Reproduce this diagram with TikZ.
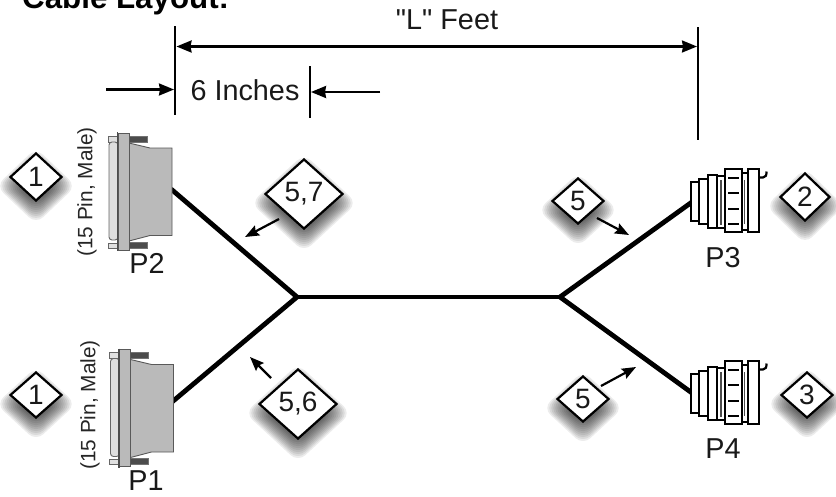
\documentclass[tikz,border=0pt]{standalone}
\usepackage{fontspec}
\setmainfont{Liberation Sans}
\newfontfamily\plainfont{Liberation Sans}
\usetikzlibrary{shapes.geometric,arrows.meta}
\tikzset{
  x=1pt,y=-1pt,
  lab/.style={inner sep=0pt,font=\fontsize{28.8}{32}\selectfont,text=black!90},
  pinlab/.style={inner sep=0pt,rotate=90,font=\fontsize{20.8}{23}\selectfont,text=black!85},
  tag/.style={shape=diamond,draw=black,line width=2.2pt,fill=white,inner sep=0pt,line join=miter,font=\fontsize{28}{30}\selectfont,text=black!90},
  cable/.style={line width=4.8pt,black},
  dim/.style={line width=2.2pt,black},
  arr/.style={line width=2.2pt,black,-{Stealth[length=15pt,width=12pt,inset=1pt]}},
  arrs/.style={line width=2.2pt,black,-{Stealth[length=14pt,width=11pt,inset=2pt]}},
  arrb/.style={line width=2.2pt,black,{Stealth[length=15pt,width=12pt,inset=1pt]}-{Stealth[length=15pt,width=12pt,inset=1pt]}},
  seg/.style={draw=black,line width=2.2pt,fill=white},
}
\newcommand{\softshadow}[4]{%
  \foreach \d in {14,12,...,-10}{
    \pgfmathsetmacro{\ww}{#3+\d}\pgfmathsetmacro{\hh}{#4+\d}
    \fill[black,opacity=.075,rounded corners=10pt]
      (#1-\ww,#2+9) -- (#1,#2+9-\hh) -- (#1+\ww,#2+9) -- (#1,#2+9+\hh) -- cycle;
  }}
\newcommand{\tagnode}[6]{%
  \softshadow{#2}{#3}{#4}{#5}
  \node[tag,minimum width=#4*2pt,minimum height=#5*2pt] (#1) at (#2,#3) {#6};}
\newcommand{\dsub}[2]{%
  \begin{scope}[shift={(#1,#2)}]
    \fill[black!70,draw=black!55,line width=.4pt] (129,136) rectangle (147,142);
    \fill[black!70,draw=black!55,line width=.4pt] (129,242) rectangle (147,248);
    \draw[black!60,fill=black!12,line width=.9pt] (108,136) rectangle (117,142);
    \draw[black!60,fill=black!12,line width=.9pt] (108,243) rectangle (117,248);
    \draw[black!60,fill=black!13,line width=.9pt,rounded corners=3pt] (118,142) -- (109,142) -- (109,240) -- (118,240) -- cycle;
    \draw[black!65,fill=black!27,line width=.9pt] (129,143) -- (150,148) -- (172,148) -- (172,235.5) -- (150,235.5) -- (129,241) -- cycle;
    \draw[black!65,fill=black!27,line width=.9pt] (118,133) rectangle (129,250);
    \draw[black!70,line width=1.6pt] (117.5,132) -- (117.5,251);
  \end{scope}}
\newcommand{\circular}[2]{%
  \begin{scope}[shift={(#1,#2)}]
    \draw[seg] (691,182) rectangle (699,221);
    \draw[seg] (699,179) rectangle (708,224);
    \draw[seg] (708,175) rectangle (717,228);
    \draw[seg] (717,176) rectangle (725,228);
    \draw[black!70,line width=1.2pt] (721,180) -- (721,225);
    \draw[seg] (742,173) rectangle (748,230);
    \draw[black!70,line width=1.2pt] (744.5,180) -- (744.5,224);
    \draw[seg] (725,169) rectangle (742,232);
    \foreach \yy in {178,193,209,224}{\draw[black,line width=1.6pt] (728,\yy) -- (739,\yy);}
    \draw[seg] (748,169) rectangle (759,232);
    \draw[black,line width=2.2pt] (760,177.5) -- (763,177.5) .. controls (766,177.5) and (766.5,175) .. (766.5,171.5);
  \end{scope}}
\begin{document}
\begin{tikzpicture}
\useasboundingbox (0,0) rectangle (836,496);
\fill[white] (0,0) rectangle (836,496);
% cables
\coordinate (jl) at (297,297);
\coordinate (jr) at (560,297);
\coordinate (p2end) at (171,189);
\coordinate (p1end) at (172,402);
\coordinate (p3end) at (692,202);
\coordinate (p4end) at (692,393);
\draw[cable] (jl) -- (jr);
\draw[cable] (p2end) -- (jl) -- (p1end);
\draw[cable] (p3end) -- (jr) -- (p4end);
% connectors
\dsub{0}{0}
\dsub{1.5}{216.5}
\circular{0}{0}
\circular{0}{192}
% labels
\node[anchor=base west,inner sep=0pt,font=\bfseries\fontsize{31.3}{33}\selectfont] (title) at (22,8) {Cable Layout:};
\node[lab,font=\plainfont\fontsize{28.8}{32}\selectfont] (feet) at (447,20) {"L" Feet};
\node[lab] (inches) at (245,90) {6 Inches};
\node[lab] (p2) at (147,263) {P2};
\node[lab] (p1) at (146,481) {P1};
\node[lab] (p3) at (723,258) {P3};
\node[lab] (p4) at (723,449) {P4};
\node[pinlab] (pin2) at (87,192) {(15 Pin, Male)};
\node[pinlab] (pin1) at (90,405) {(15 Pin, Male)};
% dimensions
\coordinate (la) at (175,26);\coordinate (lb) at (175,115);
\coordinate (ra) at (698,27);\coordinate (rb) at (698,140);
\coordinate (ma) at (310,66);\coordinate (mb) at (310,118);
\draw[dim] (la) -- (lb);
\draw[dim] (ra) -- (rb);
\draw[dim] (ma) -- (mb);
\coordinate (al) at (176.5,46.5);\coordinate (ar) at (697,46.5);
\draw[arrb] (al) -- (ar);
\coordinate (bs) at (106,89.5);\coordinate (be) at (174,89.5);
\draw[arr] (bs) -- (be);
\coordinate (cs) at (380,92);\coordinate (ce) at (311,92);
\draw[arr] (cs) -- (ce);
% tags
\tagnode{t1a}{36}{177}{26}{24}{1}
\tagnode{t1b}{36}{395}{26}{23}{1}
\tagnode{t2}{805}{197}{25}{24}{2}
\tagnode{t3}{807}{395}{26}{23}{3}
\tagnode{t5a}{578}{201}{26}{23}{5}
\tagnode{t5b}{583}{399}{26}{23}{5}
\tagnode{t57}{304}{194}{39}{35}{5,7}
\tagnode{t56}{298}{404}{39}{35}{5,6}
% pointers
\coordinate (s57) at (279,219);\coordinate (a57) at (245,237);
\coordinate (s56) at (271,378);\coordinate (a56) at (250,357);
\coordinate (s5a) at (597,218);\coordinate (a5a) at (629,235);
\coordinate (s5b) at (601,386);\coordinate (a5b) at (636,367);
\draw[arrs] (s57) -- (a57);
\draw[arrs] (s56) -- (a56);
\draw[arrs] (s5a) -- (a5a);
\draw[arrs] (s5b) -- (a5b);
\end{tikzpicture}
\end{document}
